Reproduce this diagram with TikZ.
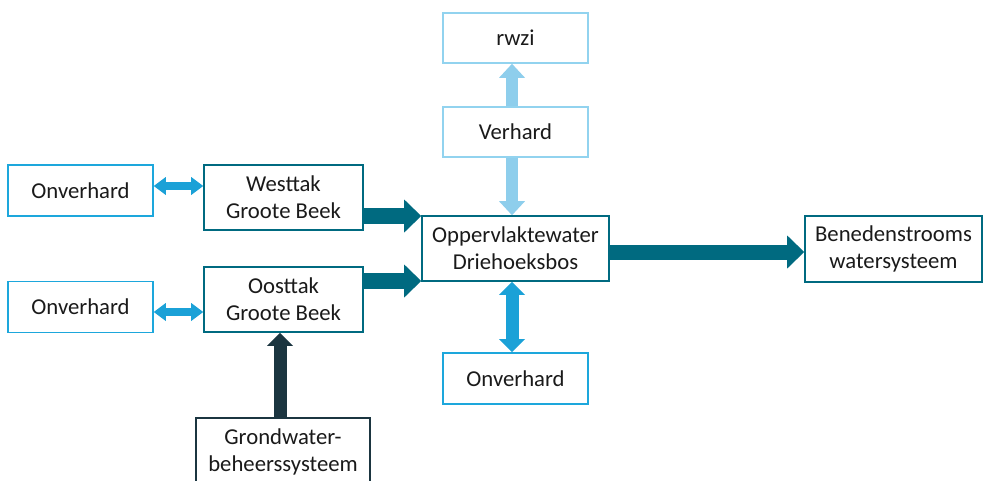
\documentclass[tikz,border=0pt]{standalone}
\usepackage{fontspec}
\setmainfont{Carlito}
\usetikzlibrary{arrows.meta}
\definecolor{lbord}{HTML}{1DA7DC}
\definecolor{lfill}{HTML}{1BA1D7}
\definecolor{pbord}{HTML}{92D3EF}
\definecolor{pfill}{HTML}{8ECEEC}
\definecolor{tealc}{HTML}{006A80}
\definecolor{slatec}{HTML}{1B3540}
\definecolor{txt}{HTML}{1A1A1A}
\begin{document}
\begin{tikzpicture}[x=1pt,y=-1pt,
  box/.style={draw, line width=1.6pt, fill=white, inner sep=0pt, align=center,
    font=\fontsize{22.7}{27}\selectfont, text=txt},
  lb/.style={box, draw=lbord},
  pb/.style={box, draw=pbord},
  tb/.style={box, draw=tealc},
  gb/.style={box, draw=slatec},
  small/.style={minimum width=145pt, minimum height=51pt},
  dbl/.style={draw=lfill, line width=8pt,
    {Triangle[width=18pt,length=12pt,line width=0pt]}-{Triangle[width=18pt,length=12pt,line width=0pt]}},
  fat/.style={draw=tealc, line width=16pt, -{Triangle[width=33pt,length=17pt,line width=0pt]}},
  pale/.style={draw=pfill, line width=12pt, -{Triangle[width=26pt,length=14pt,line width=0pt]}},
  vdbl/.style={draw=lfill, line width=13pt,
    {Triangle[width=26pt,length=13pt,line width=0pt]}-{Triangle[width=26pt,length=13pt,line width=0pt]}},
  dark/.style={draw=slatec, line width=13pt, -{Triangle[width=26pt,length=13pt,line width=0pt]}}
]
\useasboundingbox (0,0) rectangle (984,480);
\clip (0,0) rectangle (984,480);

\node[lb, small] (on1) at (80.5,190.5) {Onverhard};
\node[tb, minimum width=159pt, minimum height=65pt] (west) at (283.5,197.5) {Westtak\\Groote Beek};
\node[lb, small] (on2) at (80.5,307) {Onverhard};
\node[tb, minimum width=159pt, minimum height=65pt] (oost) at (283.5,299.5) {Oosttak\\Groote Beek};
\node[gb, minimum width=174pt, minimum height=68pt] (grond) at (283,452) {Grondwater-\\beheerssysteem};
\node[pb, minimum width=145pt, minimum height=50pt] (rwzi) at (515.5,38) {rwzi};
\node[pb, minimum width=145pt, minimum height=50pt] (verh) at (515.5,132) {Verhard};
\node[tb, minimum width=187pt, minimum height=65pt] (opp) at (515.5,248.5) {Oppervlaktewater\\Driehoeksbos};
\node[tb, minimum width=177pt, minimum height=66pt] (bene) at (893.5,249) {Benedenstrooms\\watersysteem};
\node[lb, small] (on3) at (515.5,378.5) {Onverhard};

\coordinate (ya) at (0,186);
\coordinate (yb) at (0,312);
\coordinate (yc) at (0,216);
\coordinate (yd) at (0,281);
\coordinate (ye) at (0,252);
\coordinate (xa) at (512,0);
\coordinate (xb) at (280,0);

\draw[dbl] (on1.east |- ya) -- (west.west |- ya);
\draw[dbl] (on2.east |- yb) -- (oost.west |- yb);
\draw[fat] (west.east |- yc) -- (opp.west |- yc);
\draw[fat] (oost.east |- yd) -- (opp.west |- yd);
\draw[fat, line width=15pt] (opp.east |- ye) -- (bene.west |- ye);
\draw[pale] (verh.north -| xa) -- (rwzi.south -| xa);
\draw[pale] (verh.south -| xa) -- (opp.north -| xa);
\draw[vdbl] (opp.south -| xa) -- (on3.north -| xa);
\draw[dark] (grond.north -| xb) -- (oost.south -| xb);
\end{tikzpicture}
\end{document}
